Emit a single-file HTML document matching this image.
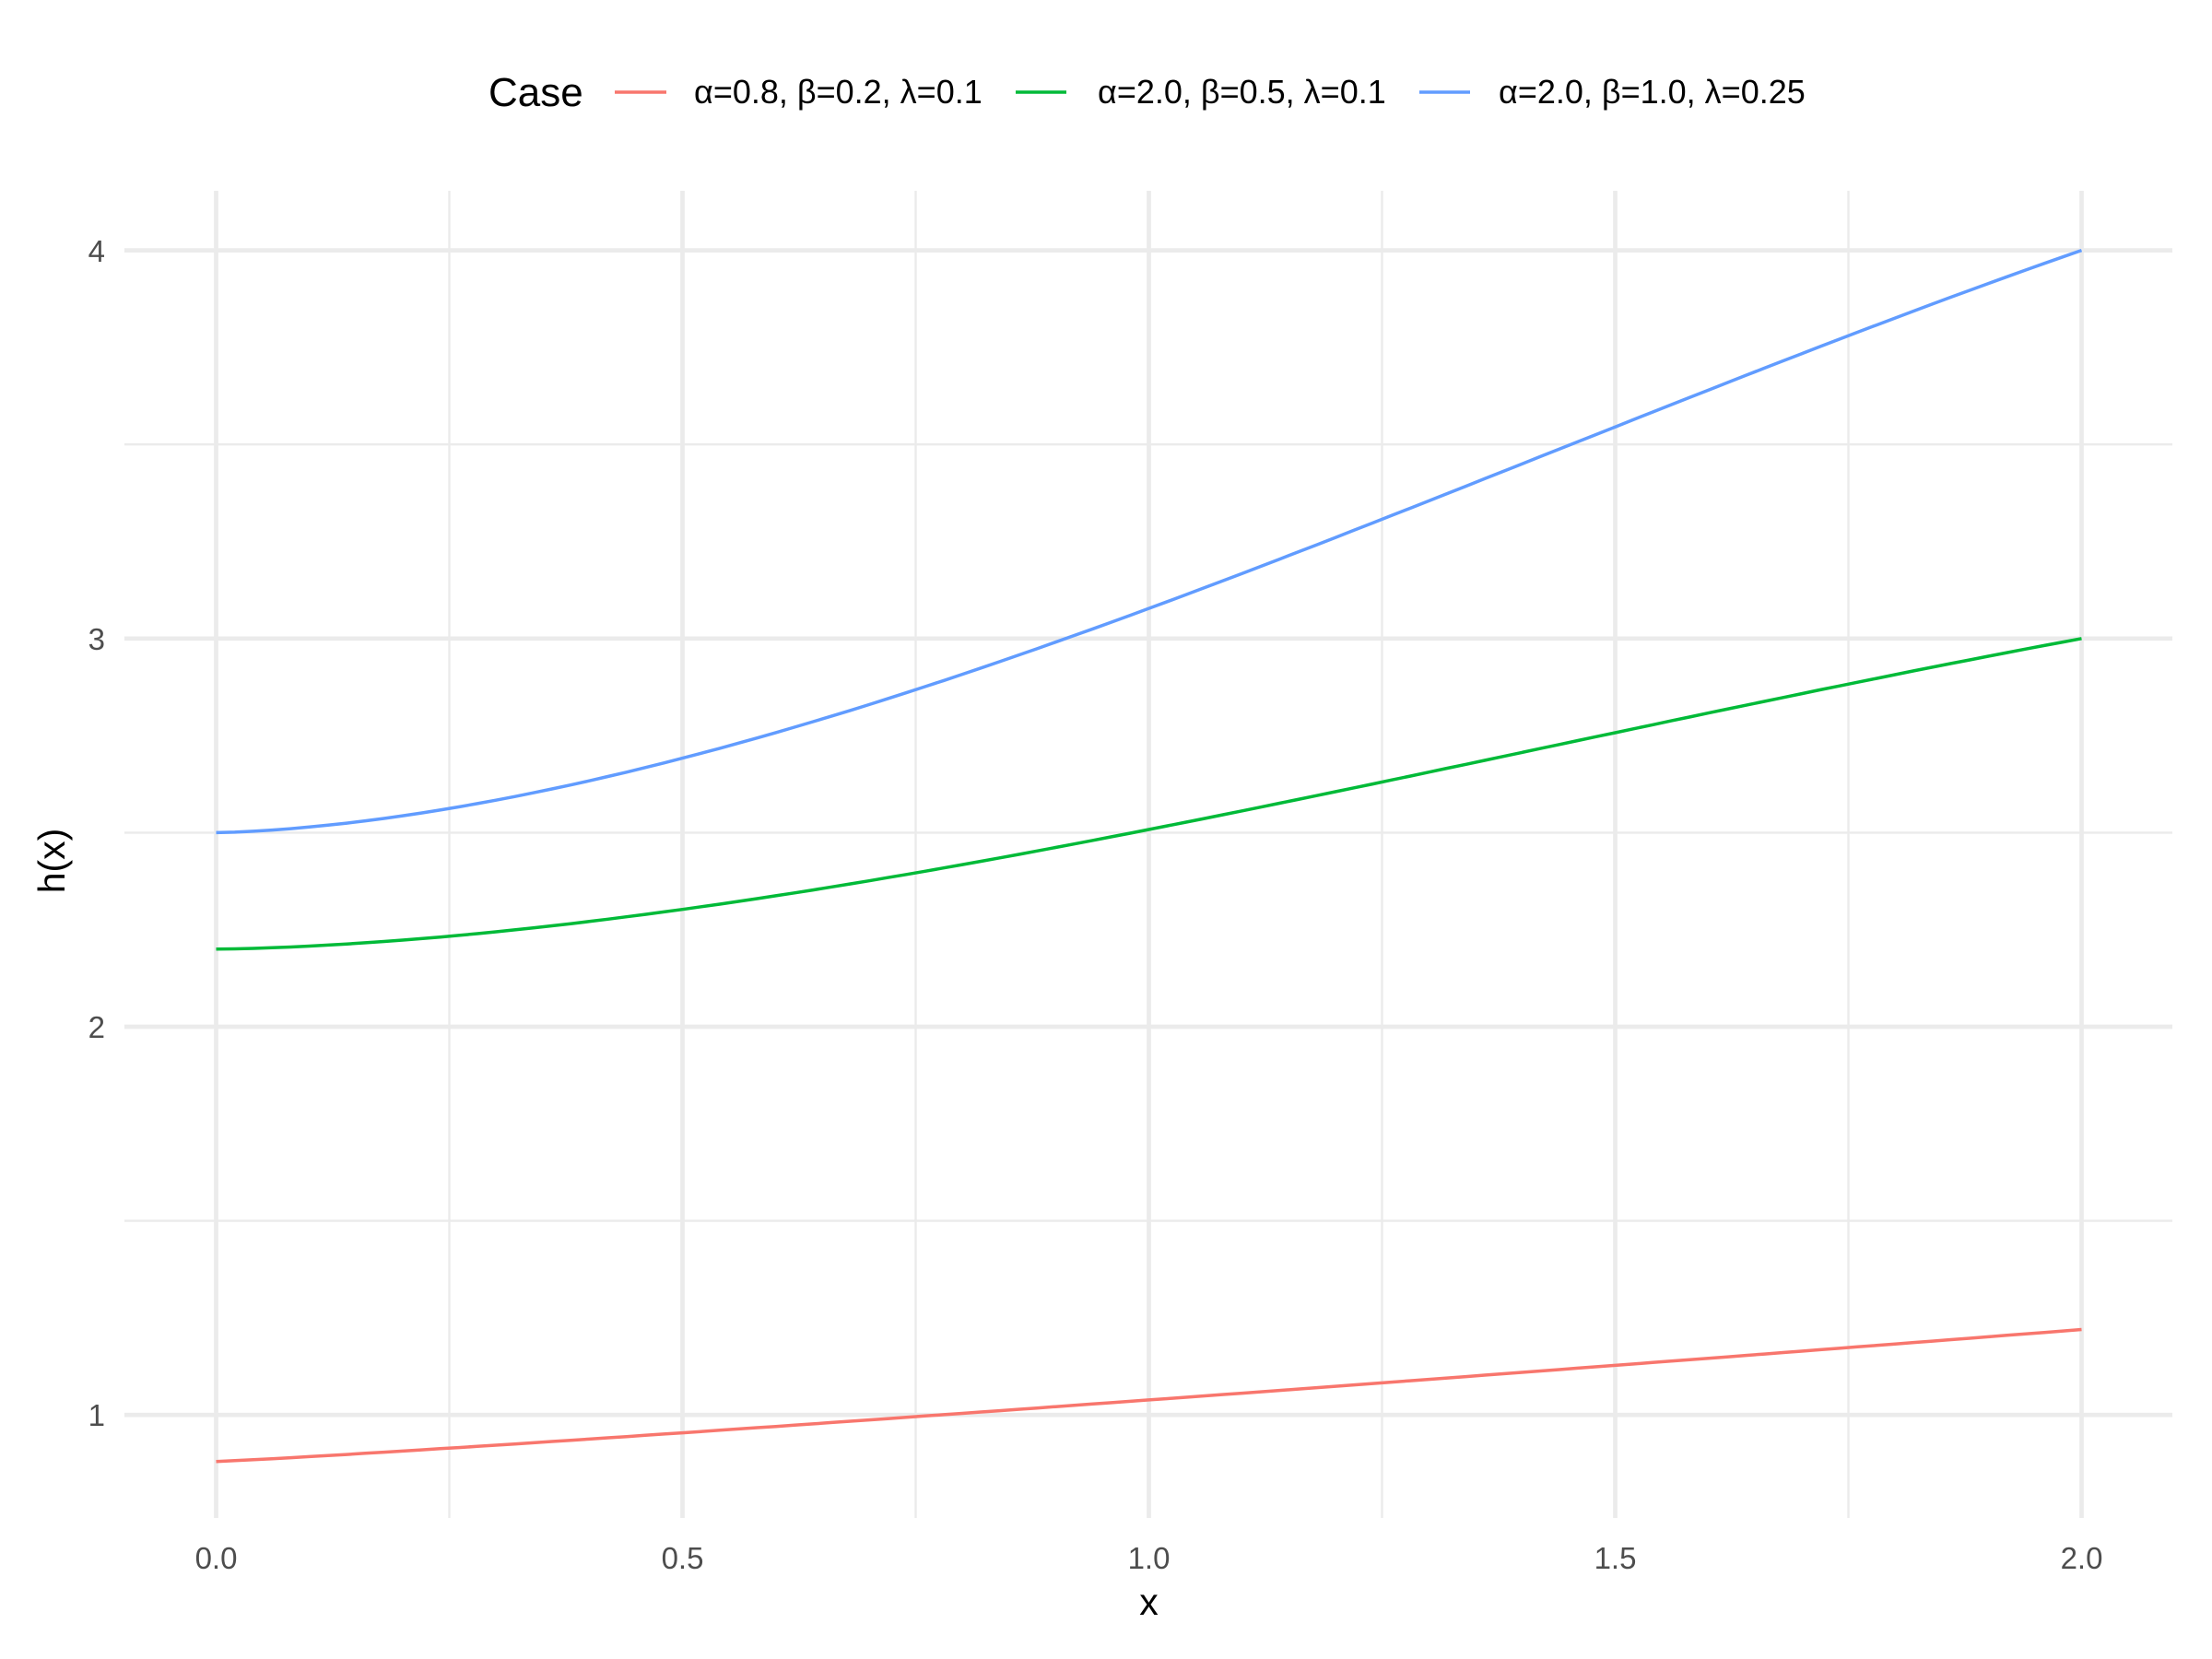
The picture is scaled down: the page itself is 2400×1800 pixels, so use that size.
<!DOCTYPE html>
<html><head><meta charset="utf-8"><style>html,body{margin:0;padding:0;background:#fff}svg{display:block}</style></head>
<body>
<svg id="s" width="2400" height="1800" viewBox="0 0 2400 1800" xmlns="http://www.w3.org/2000/svg" font-family="Liberation Sans, DejaVu Sans, sans-serif">
<rect width="2400" height="1800" fill="#fff"/>
<g stroke="#EBEBEB" stroke-width="2.4">
<line x1="135" x2="2357" y1="1324.6" y2="1324.6"/>
<line x1="135" x2="2357" y1="903.4" y2="903.4"/>
<line x1="135" x2="2357" y1="482.2" y2="482.2"/>
<line x1="487.5" x2="487.5" y1="207" y2="1647"/>
<line x1="993.5" x2="993.5" y1="207" y2="1647"/>
<line x1="1499.5" x2="1499.5" y1="207" y2="1647"/>
<line x1="2005.5" x2="2005.5" y1="207" y2="1647"/>
</g>
<g stroke="#EBEBEB" stroke-width="4.7">
<line x1="135" x2="2357" y1="1535.2" y2="1535.2"/>
<line x1="135" x2="2357" y1="1114" y2="1114"/>
<line x1="135" x2="2357" y1="692.8" y2="692.8"/>
<line x1="135" x2="2357" y1="271.6" y2="271.6"/>
<line x1="234.5" x2="234.5" y1="207" y2="1647"/>
<line x1="740.5" x2="740.5" y1="207" y2="1647"/>
<line x1="1246.5" x2="1246.5" y1="207" y2="1647"/>
<line x1="1752.5" x2="1752.5" y1="207" y2="1647"/>
<line x1="2258.5" x2="2258.5" y1="207" y2="1647"/>
</g>
<path id="pr" fill="none" stroke="#F8766D" stroke-width="3.5"/>
<path id="pg" fill="none" stroke="#00BA38" stroke-width="3.5"/>
<path id="pb" fill="none" stroke="#619CFF" stroke-width="3.5"/>
<g fill="#4D4D4D" font-size="33" text-anchor="end">
<text x="114" y="1547">1</text><text x="114" y="1126">2</text><text x="114" y="705">3</text><text x="114" y="284">4</text>
</g>
<g fill="#4D4D4D" font-size="33" text-anchor="middle">
<text x="234.5" y="1702">0.0</text><text x="740.5" y="1702">0.5</text><text x="1246.5" y="1702">1.0</text><text x="1752.5" y="1702">1.5</text><text x="2258.5" y="1702">2.0</text>
</g>
<text x="1246.5" y="1752" font-size="41" text-anchor="middle" fill="#000">x</text>
<text transform="translate(70,934) rotate(-90)" font-size="41" text-anchor="middle" fill="#000">h(x)</text>
<text x="530" y="115" font-size="44" fill="#000">Case</text>
<line x1="667" x2="723" y1="100" y2="100" stroke="#F8766D" stroke-width="3.5"/>
<line x1="1102" x2="1157" y1="100" y2="100" stroke="#00BA38" stroke-width="3.5"/>
<line x1="1540" x2="1595" y1="100" y2="100" stroke="#619CFF" stroke-width="3.5"/>
<g font-size="36" fill="#000">
<text x="753" y="112">α=0.8, β=0.2, λ=0.1</text>
<text x="1191" y="112">α=2.0, β=0.5, λ=0.1</text>
<text x="1626" y="112">α=2.0, β=1.0, λ=0.25</text>
</g>
</svg>
<script>
function X(x){return 234.5+x*1012;}
function Y(y){return 1535.2-(y-1)*421.2;}
function f(t){return 0.55*t*t*(2.12-1.12*t)+0.45*Math.pow(t,1.4);}
function mk(a,b,fn){var d="";for(var i=0;i<=100;i++){var x=i*0.02,t=x/2;d+=(i?"L":"M")+X(x).toFixed(1)+","+Y(a+(b-a)*fn(t)).toFixed(1);}return d;}
document.getElementById("pr").setAttribute("d",mk(0.88,1.22,function(t){return Math.pow(t,1.1);}));
document.getElementById("pg").setAttribute("d",mk(2.2,3.0,f));
document.getElementById("pb").setAttribute("d",mk(2.5,4.0,f));
</script>
</body></html>
